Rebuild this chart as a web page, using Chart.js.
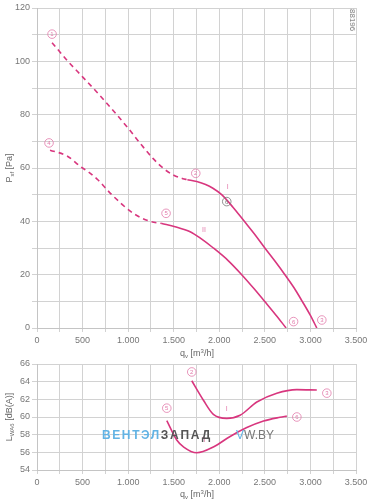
<!DOCTYPE html>
<html><head><meta charset="utf-8">
<script src="https://cdn.jsdelivr.net/npm/chart.js@4"></script>
<style>
html,body{margin:0;padding:0;background:#fff;}
body{width:371px;height:499px;position:relative;overflow:hidden;font-family:"Liberation Sans",Arial,sans-serif;}
canvas{position:absolute;left:0;}
#c1{top:0;}
#c2{top:355px;}
.t{position:absolute;color:#666;font-size:9px;white-space:nowrap;line-height:10px;}
.t sub{font-size:6px;vertical-align:-2px;}
.t sup{font-size:6px;vertical-align:3px;}
.rot{transform:translate(-50%,-50%) rotate(-90deg);}
.wm{position:absolute;left:102px;top:428px;font-size:12px;white-space:nowrap;line-height:14px;}
</style></head><body>
<canvas id="c1" width="371" height="355"></canvas>
<canvas id="c2" width="371" height="144"></canvas>

<div class="t" style="left:10px;top:168px;" ><div class="rot" style="position:absolute">P<sub>sf</sub> [Pa]</div></div>
<div class="t" style="left:10px;top:417px;" ><div class="rot" style="position:absolute">L<sub>WA6</sub> [dB(A)]</div></div>
<div class="t" style="left:197px;top:346px;transform:translateX(-50%)">q<sub>v</sub> [m<sup>3</sup>/h]</div>
<div class="t" style="left:197px;top:487px;transform:translateX(-50%)">q<sub>v</sub> [m<sup>3</sup>/h]</div>
<div class="t" style="left:352px;top:20px;font-size:8px;"><div style="position:absolute;transform:translate(-50%,-50%) rotate(90deg);color:#777">88196</div></div>
<div class="wm"><span style="color:#62b3e4;font-weight:bold;letter-spacing:1.6px">ВЕНТЭЛ</span><span style="color:#555;font-weight:bold;letter-spacing:1.8px">ЗАПАД</span><span style="display:inline-block;width:24px"></span><span style="color:#62b3e4">V</span><span style="color:#777">W.BY</span></div>

<script>
// ---- data: top chart (pressure) ----
const xTicksTop = [0, 500, 1000, 1500, 2000, 2500, 3000, 3500];
const pIdashX  = [165, 340, 505, 690, 875, 1010, 1150, 1275, 1400, 1500, 1600, 1650];
const pIdashY  = [107, 100, 94, 87.2, 80, 74.5, 68.5, 63.5, 59.5, 57.3, 56, 55.6];
const pIsolidX = [1650, 1753, 1850, 1930, 2026, 2150, 2275, 2390, 2500, 2610, 2720, 2820, 2910, 2995, 3070];
const pIsolidY = [55.6, 54.9, 53.8, 52.4, 50, 45.3, 40, 35.1, 30, 25.1, 20, 15.1, 10, 5, 0];
const pIIdashX  = [143, 330, 490, 563, 670, 820, 1057, 1240, 1370];
const pIIdashY  = [66.7, 64.5, 60.2, 58.6, 55.5, 50, 43, 40, 39.2];
const pIIsolidX = [1370, 1515, 1680, 1800, 1935, 2100, 2246, 2380, 2497, 2620, 2733];
const pIIsolidY = [39.2, 38, 36.1, 33.5, 30, 25.2, 20, 14.8, 10, 4.9, 0];
// ---- data: bottom chart (sound power) ----
const lIX  = [1698, 1826, 1935, 2082, 2228, 2412, 2631, 2851, 3070];
const lIY  = [64.1, 61.9, 60.3, 59.85, 60.2, 61.7, 62.7, 63.1, 63.05];
const lIIX = [1424, 1533, 1610, 1753, 1935, 2119, 2302, 2485, 2667, 2741];
const lIIY = [59.6, 57.4, 56.6, 55.95, 56.6, 57.8, 58.8, 59.55, 59.97, 60.1];
// ---- labels ----
const topCircleText = ['1', '4', '5', '2', '6', '6', '3'];
const topCircleX    = [165, 132, 1416, 1742, 2082, 2815, 3125];
const topCircleY    = [110.2, 69.4, 43, 58, 47.4, 2.4, 3];
const topCircleGray = [false, false, false, false, true, false, false];
const topRomanText  = ['I', 'II'];
const topRomanX     = [2093, 1833];
const topRomanY     = [53, 36.8];
const botCircleText = ['2', '3', '6', '5'];
const botCircleX    = [1698, 3180, 2851, 1424];
const botCircleY    = [65.1, 62.7, 60.0, 61];
const botRomanText  = ['I', 'II'];
const botRomanX     = [2082, 1826];
const botRomanY     = [60.9, 57.4];

const PINK = '#d8367e';
const LPINK = '#e27bab';
const GRID = '#d2d2d2';
const FONT = {family: '"Liberation Sans", Arial, sans-serif', size: 9};

function pts(xs, ys){ return xs.map((x,i)=>({x:x, y:ys[i]})); }
function fmt(v){ return v >= 1000 ? Math.floor(v/1000) + '.' + String(v%1000).padStart(3,'0') : String(v); }
function line(xs, ys, dashed){
  return {data: pts(xs, ys), showLine: true, borderColor: PINK, borderWidth: 1.6,
    borderDash: dashed ? [5,4] : [], pointRadius: 0, cubicInterpolationMode: 'monotone', fill: false};
}
function makeLabels(ct, cx, cy, cg, rt, rx, ry){
  return {id: 'labels', afterDatasetsDraw(chart){
    const ctx = chart.ctx, x = chart.scales.x, y = chart.scales.y;
    ctx.save();
    ct.forEach((t,i)=>{
      const px = x.getPixelForValue(cx[i]), py = y.getPixelForValue(cy[i]);
      const col = cg && cg[i] ? '#777' : LPINK;
      ctx.beginPath(); ctx.arc(px, py, 4.3, 0, Math.PI*2);
      ctx.strokeStyle = col; ctx.lineWidth = 0.8; ctx.stroke();
      ctx.fillStyle = col; ctx.font = '6px "Liberation Sans", Arial';
      ctx.textAlign = 'center'; ctx.textBaseline = 'middle';
      ctx.fillText(t, px, py + 0.5);
    });
    rt.forEach((t,i)=>{
      const px = x.getPixelForValue(rx[i]), py = y.getPixelForValue(ry[i]);
      ctx.fillStyle = LPINK; ctx.font = '7px "Liberation Sans", Arial';
      ctx.textAlign = 'center'; ctx.textBaseline = 'middle';
      ctx.fillText(t, px, py);
    });
    ctx.restore();
  }};
}
function xScale(h){
  return {type: 'linear', min: 0, max: 3500,
    afterBuildTicks: s => { const t=[]; for(let v=0; v<=3500; v+=250) t.push({value:v}); s.ticks = t; },
    afterFit: s => { s.height = h; },
    ticks: {autoSkip: false, maxRotation: 0, font: FONT, color: '#777', padding: 3,
      callback: v => v % 500 === 0 ? fmt(v) : ''},
    grid: {color: GRID, lineWidth: 1, tickLength: 4, tickColor: GRID},
    border: {color: '#c4c4c4'}};
}
function yScale(min, max, step, labelStep){
  return {type: 'linear', min: min, max: max,
    afterFit: s => { s.width = 37; },
    ticks: {stepSize: step, font: FONT, color: '#777', padding: 2,
      callback: v => (v - min) % labelStep === 0 ? String(v) : ''},
    grid: {color: GRID, lineWidth: 1, tickLength: 5, tickColor: GRID},
    border: {color: '#c4c4c4'}};
}
const common = {responsive: false, animation: false, devicePixelRatio: 1,
  plugins: {legend: {display: false}, tooltip: {enabled: false}}};

new Chart(document.getElementById('c1'), {
  type: 'scatter',
  data: {datasets: [line(pIdashX, pIdashY, true), line(pIsolidX, pIsolidY, false),
                    line(pIIdashX, pIIdashY, true), line(pIIsolidX, pIIsolidY, false)]},
  options: Object.assign({}, common, {
    layout: {padding: {left: 0, right: 15, top: 8, bottom: 0}},
    scales: {x: xScale(27), y: yScale(0, 120, 10, 20)}}),
  plugins: [makeLabels(topCircleText, topCircleX, topCircleY, topCircleGray, topRomanText, topRomanX, topRomanY)]
});
new Chart(document.getElementById('c2'), {
  type: 'scatter',
  data: {datasets: [line(lIX, lIY, false), line(lIIX, lIIY, false)]},
  options: Object.assign({}, common, {
    layout: {padding: {left: 0, right: 15, top: 9, bottom: 0}},
    scales: {x: xScale(29), y: yScale(54, 66, 2, 2)}}),
  plugins: [makeLabels(botCircleText, botCircleX, botCircleY, null, botRomanText, botRomanX, botRomanY)]
});
</script>
</body></html>
